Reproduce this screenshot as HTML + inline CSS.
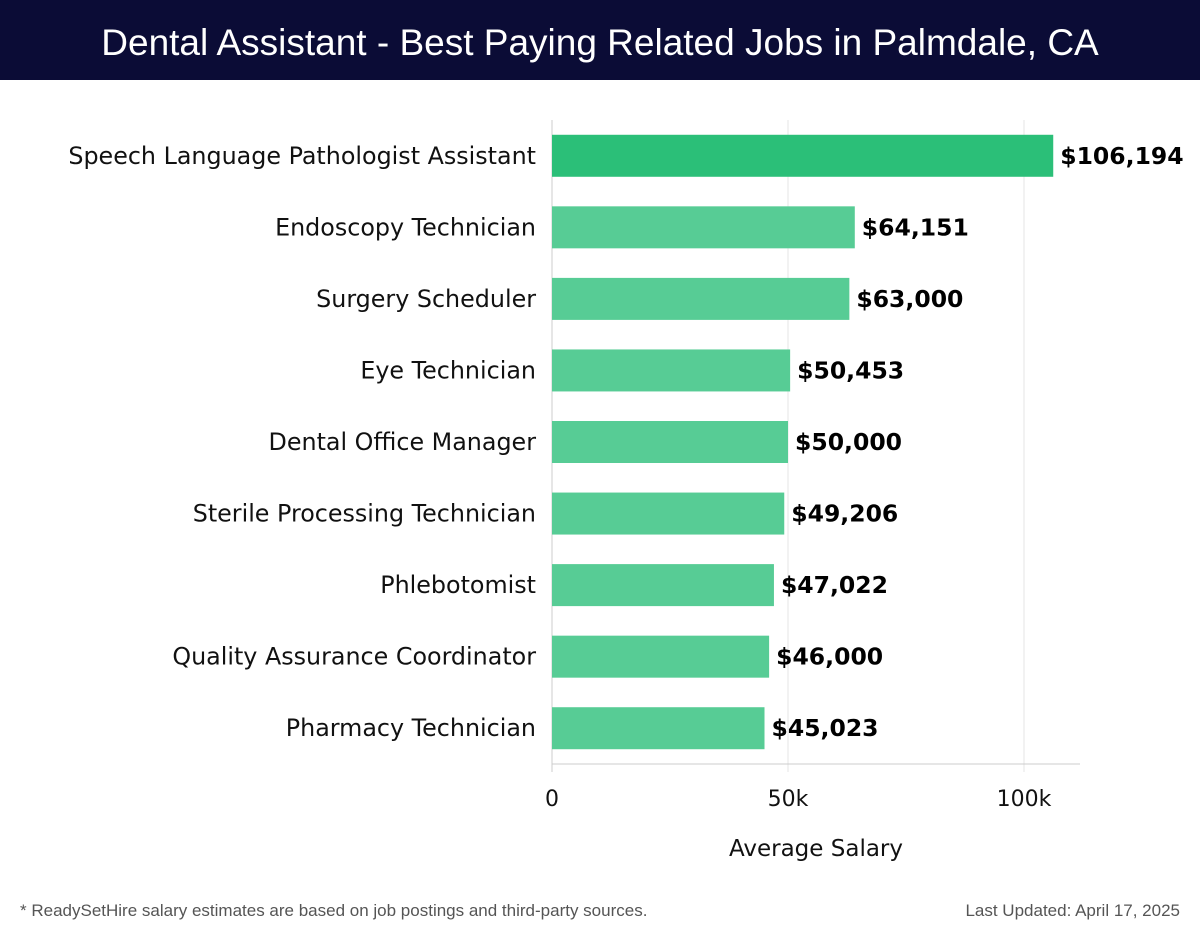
<!DOCTYPE html>
<html><head><meta charset="utf-8"><style>
body{margin:0;width:1200px;height:940px;background:#fff;font-family:"Liberation Sans","DejaVu Sans",sans-serif;overflow:hidden}
#title{position:absolute;left:0;top:0;width:1200px;height:80px;background:#0b0c36;color:#fff;font-size:37px;text-align:center;line-height:86px;font-weight:300}
.foot{position:absolute;top:901px;font-size:17px;color:#555}
</style></head><body>
<div id="title">Dental Assistant - Best Paying Related Jobs in Palmdale, CA</div>
<svg id="chart" width="1200" height="880" style="position:absolute;left:0;top:0;font-family:'DejaVu Sans',sans-serif"></svg>
<div class="foot" style="left:20px">* ReadySetHire salary estimates are based on job postings and third-party sources.</div>
<div class="foot" style="right:20px">Last Updated: April 17, 2025</div>
<script>
const categories=["Speech Language Pathologist Assistant","Endoscopy Technician","Surgery Scheduler","Eye Technician","Dental Office Manager","Sterile Processing Technician","Phlebotomist","Quality Assurance Coordinator","Pharmacy Technician"];
const values=[106194,64151,63000,50453,50000,49206,47022,46000,45023];
const ticks=[0,50000,100000];
const tickLabels=["0","50k","100k"];
const svg=document.getElementById('chart');const NS="http://www.w3.org/2000/svg";
const x0=552,x1=1024,plotTop=120,plotBottom=764,band=(plotBottom-plotTop)/categories.length,bh=42;
const xs=v=>x0+(x1-x0)*v/100000;
function mk(t,a,txt){const e=document.createElementNS(NS,t);for(const k in a)e.setAttribute(k,a[k]);if(txt!==undefined)e.textContent=txt;svg.appendChild(e);return e;}
ticks.forEach((t,i)=>{
 const g=mk('line',{x1:xs(t),x2:xs(t),y1:plotTop,y2:plotBottom+8,stroke:i==0?'#ccc':'#e6e6e6','stroke-width':1});
 
 
 const l=mk('text',{x:xs(t),y:806,'font-size':22,'text-anchor':'middle',fill:'#111'},tickLabels[i]);
 
 
});
const ax=mk('line',{x1:x0,x2:1080,y1:plotBottom,y2:plotBottom,stroke:'#ccc'});


categories.forEach((c,i)=>{
 const cy=plotTop+band*(i+0.5);
 const r=mk('rect',{x:x0,y:cy-bh/2,width:xs(values[i])-x0,height:bh,fill:i==0?'#2bbf78':'#57cc95'});
 
 
 const l=mk('text',{x:536,y:cy+8,'font-size':23.8,'text-anchor':'end',fill:'#111'},c);
 
 
 const v=mk('text',{x:xs(values[i])+7,y:cy+8,'font-size':23.5,'font-weight':'bold',fill:'#000'},'$'+values[i].toLocaleString('en-US'));
 
 
});
const t=mk('text',{x:816,y:856,'font-size':23,'text-anchor':'middle',fill:'#111'},'Average Salary');


</script>
</body></html>
